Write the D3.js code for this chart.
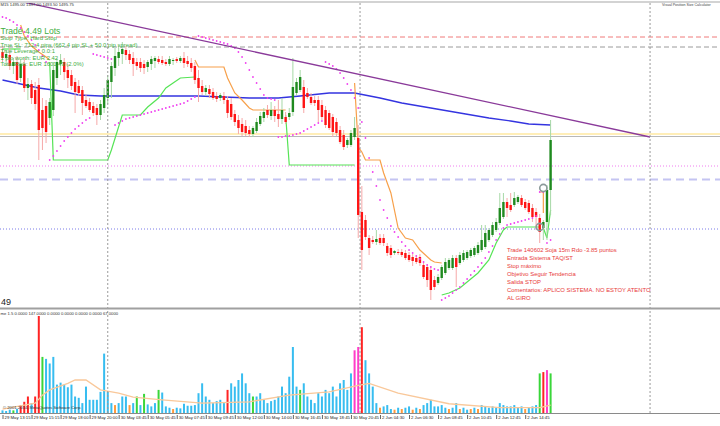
<!DOCTYPE html>
<html><head><meta charset="utf-8">
<script src="https://cdn.jsdelivr.net/npm/d3@7"></script>
<style>html,body{margin:0;padding:0;background:#fff;overflow:hidden}svg{display:block;font-family:"Liberation Sans",Arial,sans-serif}</style>
</head><body><svg id="c" width="720" height="426"></svg>
<script>
// ---------- DATA ----------
const timeLabels = ["29 May 13:15","29 May 15:15","29 May 18:00","29 May 20:00","30 May 03:45","30 May 05:45","30 May 07:45","30 May 09:45","30 May 12:00","30 May 14:00","30 May 16:45","30 May 18:45","30 May 20:45","2 Jun 04:30","2 Jun 06:30","2 Jun 08:45","2 Jun 10:45","2 Jun 12:45","2 Jun 14:45"];
const open = [1499.72,1499.48,1499.60,1499.16,1499.32,1498.68,1499.24,1498.28,1498.44,1498.20,
1498.40,1497.40,1497.56,1497.08,1497.40,1498.68,1499.24,1499.32,1499.00,1498.80,
1498.52,1498.36,1498.20,1497.80,1497.72,1497.56,1497.48,1497.20,1497.48,1497.88,
1498.52,1499.08,1499.48,1499.64,1499.80,1499.64,1499.48,1499.32,1499.32,1499.24,
1499.12,1499.24,1499.36,1499.44,1499.40,1499.32,1499.24,1499.36,1499.44,1499.36,
1499.48,1499.36,1499.28,1499.16,1498.68,1498.36,1498.12,1498.24,1498.12,1497.96,
1497.88,1497.96,1497.80,1497.64,1497.24,1497.00,1496.84,1496.76,1496.60,1496.44,
1496.56,1496.84,1497.08,1497.40,1497.16,1497.40,1497.24,1497.04,1497.12,1497.12,
1497.32,1498.08,1498.20,1498.32,1498.08,1497.92,1497.80,1497.80,1497.60,1497.40,
1497.28,1497.12,1496.92,1496.60,1496.40,1496.00,1496.00,1496.32,1496.28,1493.32,
1493.00,1492.28,1492.20,1492.12,1492.28,1492.28,1491.96,1491.88,1491.68,1491.72,
1491.72,1491.68,1491.60,1491.52,1491.48,1491.52,1491.20,1491.12,1491.00,1490.60,
1490.48,1490.68,1490.88,1491.08,1491.08,1491.48,1491.28,1491.40,1491.48,1491.56,
1491.60,1491.68,1491.80,1491.92,1492.20,1492.40,1492.60,1492.88,1493.12,1493.72,
1493.60,1493.60,1493.72,1493.88,1493.72,1493.68,1493.48,1493.32,1493.08,1492.68,
1492.92,1494.20];
const high = [1499.96,1499.80,1499.88,1499.48,1499.56,1499.40,1499.48,1498.68,1498.60,1498.52,
1498.68,1497.88,1497.80,1497.88,1499.32,1499.48,1499.64,1499.48,1499.24,1499.00,
1498.68,1498.60,1498.36,1498.04,1497.88,1497.72,1497.64,1497.80,1498.28,1498.80,
1499.32,1499.88,1499.96,1500.12,1499.96,1499.80,1499.72,1499.48,1499.48,1499.40,
1499.40,1499.56,1499.56,1499.56,1499.56,1499.44,1499.56,1499.48,1499.52,1499.56,
1499.72,1499.56,1499.48,1499.32,1499.00,1498.60,1498.40,1498.40,1498.28,1498.12,
1498.08,1498.12,1497.96,1497.88,1497.40,1497.20,1497.08,1497.00,1496.76,1496.76,
1497.08,1497.32,1497.48,1497.60,1497.72,1497.56,1497.80,1497.88,1497.32,1497.48,
1499.48,1498.68,1499.00,1498.60,1498.28,1498.08,1497.96,1497.96,1497.80,1497.56,
1497.40,1497.24,1497.08,1496.76,1496.60,1496.28,1496.60,1497.12,1496.80,1494.36,
1493.20,1492.40,1492.36,1492.60,1492.44,1492.44,1492.08,1492.00,1491.80,1491.84,
1491.84,1491.80,1491.72,1491.64,1491.60,1491.64,1491.32,1491.24,1491.16,1490.76,
1490.84,1491.20,1491.48,1491.48,1491.60,1491.60,1491.72,1491.80,1491.80,1491.88,
1491.96,1492.12,1492.80,1492.80,1492.68,1492.92,1493.08,1494.08,1494.08,1493.88,
1494.08,1494.12,1494.00,1494.00,1493.84,1493.80,1493.64,1493.48,1493.24,1493.00,
1494.40,1497.00];
const low = [1499.32,1499.16,1499.00,1498.84,1498.44,1498.52,1498.12,1497.80,1497.64,1497.40,
1495.40,1495.80,1496.08,1496.80,1497.16,1498.40,1498.80,1498.60,1498.28,1498.20,
1497.28,1497.96,1497.20,1497.48,1497.32,1497.16,1496.80,1497.00,1497.28,1497.64,
1497.88,1498.76,1499.16,1499.24,1499.40,1499.24,1498.76,1499.00,1498.92,1498.84,
1498.92,1499.00,1499.08,1499.24,1499.20,1499.16,1499.16,1499.20,1499.28,1499.28,
1499.08,1499.12,1498.92,1498.44,1497.72,1498.00,1497.96,1497.88,1497.80,1497.72,
1497.76,1497.64,1497.08,1497.00,1496.76,1496.44,1496.36,1496.36,1496.32,1496.32,
1496.48,1496.76,1496.92,1497.08,1497.00,1496.92,1496.72,1496.84,1496.84,1497.00,
1497.16,1497.96,1498.12,1497.28,1497.84,1497.60,1497.56,1496.92,1497.00,1496.68,
1496.60,1496.32,1496.36,1496.04,1495.80,1495.88,1495.92,1496.20,1492.28,1491.00,
1492.20,1491.60,1492.04,1492.00,1492.00,1491.96,1491.56,1491.48,1491.60,1491.60,
1491.52,1491.40,1491.32,1491.16,1491.24,1491.16,1490.64,1490.32,1489.80,1490.20,
1490.40,1490.60,1490.80,1491.00,1491.00,1490.32,1491.20,1491.32,1491.40,1491.48,
1491.52,1491.60,1491.72,1491.84,1492.12,1492.32,1492.52,1492.80,1493.04,1493.12,
1493.32,1493.52,1493.64,1493.52,1493.40,1493.24,1492.92,1492.60,1492.08,1492.20,
1492.20,1493.20];
const close = [1499.48,1499.64,1499.16,1499.32,1498.60,1499.24,1498.28,1498.44,1497.88,1497.64,
1496.60,1496.68,1496.52,1497.72,1499.00,1499.32,1499.40,1498.92,1498.68,1498.36,
1498.12,1498.08,1497.68,1497.56,1497.40,1497.28,1497.20,1497.64,1498.00,1498.60,
1499.16,1499.56,1499.72,1499.84,1499.60,1499.40,1499.24,1499.16,1499.08,1499.08,
1499.32,1499.44,1499.48,1499.32,1499.28,1499.24,1499.44,1499.40,1499.36,1499.48,
1499.28,1499.24,1499.08,1498.60,1498.28,1498.12,1498.28,1498.04,1497.88,1497.84,
1498.00,1497.80,1497.28,1497.12,1496.92,1496.68,1496.52,1496.48,1496.44,1496.68,
1496.92,1497.16,1497.32,1497.20,1497.40,1497.16,1497.04,1497.40,1496.92,1497.28,
1498.32,1498.52,1498.72,1497.48,1497.92,1497.68,1497.68,1497.40,1497.12,1496.80,
1496.68,1496.52,1496.48,1496.12,1495.92,1496.20,1496.48,1496.68,1493.20,1491.80,
1492.32,1491.88,1492.12,1492.24,1492.08,1492.08,1491.68,1491.60,1491.76,1491.68,
1491.60,1491.48,1491.40,1491.36,1491.32,1491.28,1490.72,1490.60,1490.20,1490.32,
1490.72,1491.12,1491.32,1491.40,1491.48,1491.12,1491.60,1491.68,1491.72,1491.80,
1491.88,1492.00,1492.20,1492.48,1492.60,1492.80,1492.92,1493.48,1493.72,1493.48,
1493.40,1493.88,1493.92,1493.60,1493.48,1493.32,1493.12,1493.12,1492.52,1492.92,
1494.20,1496.20];
const volume = [4,3,5,4,6,12,17,25,15,25, 147,85,82,75,85,43,46,43,39,43,
25,23,15,40,20,20,20,32,90,32, 15,12,15,25,25,12,15,25,12,29,
13,10,15,35,31,10,8,6,8,7, 14,11,11,12,30,45,25,20,15,18,
20,15,35,45,40,50,60,45,30,25, 25,30,20,15,18,20,25,40,30,55,
100,40,35,45,25,20,15,30,25,35, 30,40,25,45,50,35,60,95,100,130,
80,60,40,15,8,10,12,6,5,8, 6,8,10,5,8,6,12,15,20,10,
10,12,8,6,8,15,6,8,5,6, 8,6,12,10,8,10,8,15,12,10,
10,12,8,10,6,8,10,12,60,62, 65,60];
const volType = "bbbgbrrrbr" + "rgbbbbbbbb" + "bbbbbbbbbb" + "bobbbobgbg" + "bbbgbbbobb" + "bbbbbbbbbb" +
 "bbrbbbbbbg" + "bbbbbbbbbb" + "bbgbbbbbbb" + "bbbbbbbmmr" + "bbbbobbbob" + "obbobobbbb" +
 "bbbobbobbo" + "bobbbbbbbb" + "bbbbobbbgr" + "mg";
const volAvg = [[0,6],[9,15],[11,27],[13,35],[18,45],[20,50],[23,50],[27,35],[32,30],[36,24],[44,20],[55,15],[68,17],[79,27],[90,32],[98,42],[101,45],[109,30],[123,14],[137,8],[148,8],[151,12]];
const maVals = [[0,1498.60],[5,1498.44],[10,1498.28],[16,1498.16],[21,1498.00],[27,1497.96],[40,1497.96],[54,1497.96],[68,1497.88],[76,1497.88],[82,1497.96],[90,1498.08],[97,1498.08],[104,1497.88],[110,1497.68],[118,1497.48],[126,1497.28],[134,1497.08],[140,1496.96],[145,1496.84],[151,1496.80]];
const sar = [1501.12,1501.08,1501.00,1500.92,1500.80,1500.68,1500.52,1500.36,1500.20,1500.00,
1499.80,1499.56,1499.32,1495.40,1495.56,1495.76,1495.96,1496.16,1496.32,1496.48,
1496.64,1496.76,1496.88,1497.00,1497.08,1499.64,1499.60,1499.56,1499.52,1499.48,
1499.44,1496.80,1496.88,1496.96,1497.04,1497.08,1497.12,1497.16,1497.20,1497.24,
1497.28,1497.32,1497.36,1497.40,1497.44,1497.48,1497.52,1497.56,1497.60,1497.64,
1497.68,1497.76,1497.84,1497.92,1500.36,1500.32,1500.28,1500.24,1500.20,1500.16,
1500.12,1500.08,1500.04,1499.96,1499.88,1499.72,1499.52,1499.28,1499.00,1498.72,
1498.48,1498.24,1498.00,1497.88,1497.84,1497.80,1496.32,1496.32,1496.36,1496.36,
1496.40,1496.44,1496.48,1496.56,1496.64,1496.72,1496.80,1496.88,1496.96,1499.32,
1499.24,1499.16,1499.04,1498.88,1498.68,1498.44,1498.20,1497.88,1497.48,1496.92,
1496.28,1495.48,1494.92,1494.36,1493.80,1493.40,1493.08,1492.76,1492.52,1492.32,
1492.12,1491.96,1491.80,1491.68,1491.56,1491.44,1491.32,1491.20,1491.12,1491.04,
1491.00,1489.80,1489.88,1489.96,1490.08,1490.20,1490.32,1490.48,1490.64,1490.80,
1490.96,1491.12,1491.28,1491.48,1491.72,1491.96,1492.20,1492.44,1492.68,1492.80,
1492.84,1492.88,1492.92,1492.96,1493.00,1493.04,1493.08,1493.16,1494.12,1494.12,
1492.08,1492.20];
const stGreen = [
 [[0,1499.84],[5,1499.84]],
 [[13,1499.32],[14,1495.40],[29,1495.40],[30,1495.80],[33,1497.20],[38,1497.20],[40,1497.52],[43,1497.88],[45,1498.28],[47,1498.48],[49,1498.68],[53,1498.72]],
 [[78,1497.20],[79,1495.20],[97,1495.20]],
 [[121,1490.00],[123,1490.08],[126,1490.28],[128,1490.52],[131,1490.88],[134,1491.40],[136,1492.08],[138,1492.60],[139,1492.72],[148,1492.72]],
 [[149,1492.68],[150,1492.28],[151,1493.40]]
];
const stOrange = [
 [[5,1500.80],[6,1500.36],[8,1499.96],[10,1499.72],[12,1499.52],[13,1499.40]],
 [[53,1499.40],[54,1499.12],[61,1499.12],[62,1498.68],[64,1498.08],[66,1497.80],[68,1497.48],[69,1497.40],[78,1497.40]],
 [[97,1498.48],[98,1495.92],[99,1495.72],[100,1495.40],[104,1495.40],[105,1494.88],[107,1494.08],[109,1492.68],[111,1492.28],[113,1492.20],[115,1491.80],[118,1491.40],[119,1491.32],[121,1491.28]],
 [[148,1494.12],[149,1494.12],[149,1493.28]]
];
const levelSL = 1500.32, levelTP = 1499.92, levelYellow = 1496.44, levelGray = 1496.34;
const levelPink = 1495.16, levelLav = 1494.62, levelEntry = 1492.64;
const trendPts = [[5.65,1501.72],[178.4,1496.32]];
const vLineBars = [29, 98.5, 178.4];
const tradeMarks = [[149,1494.28],[148,1492.72]];
const infoLines = ["Stop Type: Hard Stop","True SL: 712.4 pips (662.4 pip SL + 50.0 pip spread)","True Leverage: 0.0:1","1 pip worth: EUR 2.42","Total Risk: EUR 1601.49 (2.0%)"];
const noteLines = ["Trade 140602 Soja 15m Rdo -3.85 puntos","Entrada Sistema TAQ/ST","Stop máximo","Objetivo Seguir Tendencia","Salida STOP","Comentarios: APLICO SISTEMA. NO ESTOY ATENTO","AL GIRO"];
const volHeader = "me 1.5 0.0000 147.0000 0.0000 0.0000 0.0000 0.0000 67.0000";
const priceHeader = "M15 1495.00 1497.00 1493.50 1495.75";

// ---------- CHART ----------
const svg = d3.select("#c");
const x = d3.scaleLinear().domain([0,151]).range([2.5,550.6]);
const y = d3.scaleLinear().domain([1489.4,1501.8]).range([310,0]);
const yv = d3.scaleLinear().domain([0,150]).range([413,314]);
const defs = svg.append("defs");
defs.append("clipPath").attr("id","cm").append("rect").attr("x",0).attr("y",3).attr("width",720).attr("height",304);
defs.append("clipPath").attr("id","cv").append("rect").attr("x",0).attr("y",310).attr("width",720).attr("height",103);
const gm = svg.append("g").attr("clip-path","url(#cm)");
const gv = svg.append("g").attr("clip-path","url(#cv)");

function hline(p, color, w, dash){ gm.append("line").attr("x1",0).attr("x2",720).attr("y1",y(p)).attr("y2",y(p)).attr("stroke",color).attr("stroke-width",w).attr("stroke-dasharray",dash||null); }
hline(levelSL,"#f07b7b",1,"5,3");
hline(levelTP,"#9a9a9a",1,"5,3");
hline(levelYellow,"#ffe9a0",1.6);
hline(levelGray,"#b8b8b8",1);
hline(levelPink,"#f07cf0",1,"1,2");
hline(levelLav,"#c4c4f2",2,"8,5");
hline(levelEntry,"#7a7ae8",1,"1,2");

vLineBars.forEach(b=>{
  svg.append("line").attr("x1",x(b)).attr("x2",x(b)).attr("y1",3).attr("y2",413).attr("stroke","#9a9a9a").attr("stroke-width",1).attr("stroke-dasharray","2,2");
});

const pl = d3.line().x(d=>x(d[0])).y(d=>y(d[1]));
gm.append("path").attr("d",pl(maVals)).attr("fill","none").attr("stroke","#3434e0").attr("stroke-width",1.4);
stOrange.forEach(s=>gm.append("path").attr("d",pl(s)).attr("fill","none").attr("stroke","#f7a04a").attr("stroke-width",1.2));
stGreen.forEach(s=>gm.append("path").attr("d",pl(s)).attr("fill","none").attr("stroke","#56e456").attr("stroke-width",1.2));

const idx = d3.range(open.length);
const cg = gm.append("g");
cg.selectAll("line.w").data(idx).join("line")
  .attr("x1",i=>x(i)).attr("x2",i=>x(i)).attr("y1",i=>y(high[i])).attr("y2",i=>y(low[i]))
  .attr("stroke",i=>close[i]>=open[i]?"#a6d8a6":"#f6a8a8").attr("stroke-width",1);
cg.selectAll("rect").data(idx).join("rect")
  .attr("x",i=>x(i)-1.2).attr("width",2.4)
  .attr("y",i=>y(Math.max(open[i],close[i])))
  .attr("height",i=>Math.max(1,Math.abs(y(open[i])-y(close[i]))))
  .attr("fill",i=>close[i]>=open[i]?"#1f8a1f":"#ff1414");

gm.selectAll("circle.sar").data(idx).join("circle").attr("class","sar")
  .attr("cx",i=>x(i)).attr("cy",i=>y(sar[i])).attr("r",0.9).attr("fill","#f040f0");

const tSlope = (trendPts[1][1]-trendPts[0][1])/(trendPts[1][0]-trendPts[0][0]);
const tStart = -1;
gm.append("line").attr("x1",x(tStart)).attr("y1",y(trendPts[0][1]+tSlope*(tStart-trendPts[0][0])))
  .attr("x2",x(trendPts[1][0])).attr("y2",y(trendPts[1][1])).attr("stroke","#8a3a9a").attr("stroke-width",1.3);

tradeMarks.forEach(m=>{
  gm.append("circle").attr("cx",x(m[0])).attr("cy",y(m[1])).attr("r",3.6).attr("fill","none").attr("stroke","#8c9a9a").attr("stroke-width",1.6);
});

svg.append("line").attr("x1",0).attr("x2",720).attr("y1",2).attr("y2",2).attr("stroke","#a8a8a8").attr("stroke-width",1.2);
svg.append("line").attr("x1",0).attr("x2",720).attr("y1",308.5).attr("y2",308.5).attr("stroke","#a0a0a0").attr("stroke-width",2);

const vc = {b:"#37bdf0",r:"#ff2424",g:"#3ad63a",o:"#ff9a3c",m:"#ff3cc8"};
gv.selectAll("rect").data(idx).join("rect")
  .attr("x",i=>x(i)-1).attr("width",2)
  .attr("y",i=>yv(volume[i])).attr("height",i=>yv(0)-yv(volume[i]))
  .attr("fill",i=>vc[volType[i]]);
gv.append("path").attr("d",d3.line().x(d=>x(d[0])).y(d=>yv(d[1]))(volAvg)).attr("fill","none").attr("stroke","#f9c89a").attr("stroke-width",1.3);

const ax = svg.append("g").attr("transform","translate(0,413)")
  .call(d3.axisBottom(x).tickValues(d3.range(0,152,8)).tickFormat((d,k)=>timeLabels[k]).tickSize(6).tickSizeOuter(0));
ax.select(".domain").remove();
svg.append("line").attr("x1",0).attr("x2",720).attr("y1",413.5).attr("y2",413.5).attr("stroke","#8a8a8a").attr("stroke-width",1);
ax.selectAll(".tick line").attr("stroke","#666").attr("y1",2);
ax.selectAll(".tick text").attr("text-anchor","start").attr("x",1.5).attr("y",3).attr("dy","0.75em")
  .attr("font-size","4.3px").attr("fill","#222").attr("font-family","Liberation Sans, Arial");

svg.append("text").attr("x",0.5).attr("y",5.5).attr("font-size","4.2px").attr("fill","#333").text(priceHeader);
svg.append("text").attr("x",662).attr("y",6).attr("font-size","3.6px").attr("fill","#444").text("Visual Position Size Calculator");
svg.append("text").attr("x",0.5).attr("y",34).attr("font-size","8.6px").attr("fill","#3fae3f").text("Trade 4.49 Lots");
infoLines.forEach((t,k)=>svg.append("text").attr("x",0.5).attr("y",40+k*6.5).attr("font-size","5.9px").attr("fill","#3fae3f").text(t));
noteLines.forEach((t,k)=>svg.append("text").attr("x",507).attr("y",252+k*8).attr("font-size","5.9px").attr("fill","#e83a3a").text(t));
svg.append("text").attr("x",1).attr("y",305).attr("font-size","9px").attr("fill","#222").text("49");
svg.append("text").attr("x",0.5).attr("y",315).attr("font-size","4.2px").attr("fill","#333").text(volHeader);
svg.append("text").attr("x",3).attr("y",409).attr("font-size","4.2px").attr("fill","#333").text("© 2001-2014, MetaQuotes Software Corp.");
</script></body></html>
